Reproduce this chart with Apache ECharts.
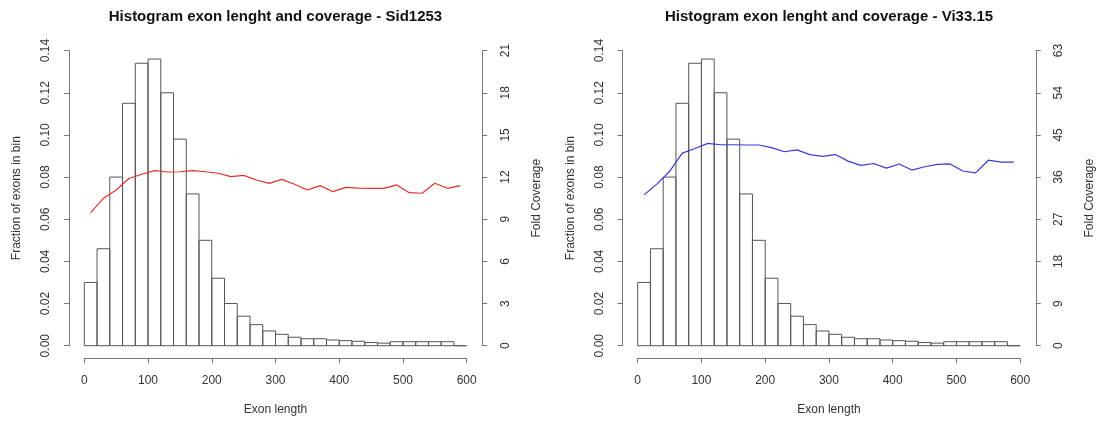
<!DOCTYPE html>
<html>
<head>
<meta charset="utf-8">
<script src="https://cdn.jsdelivr.net/npm/echarts@6/dist/echarts.min.js"></script>
<style>
html,body{margin:0;padding:0;background:#fff;}
#chart{width:1099px;height:423px;}
</style>
</head>
<body>
<div id="chart"></div>
<script>
// ---- data ----
const binStart = [0,20,40,60,80,100,120,140,160,180,200,220,240,260,280,300,320,340,360,380,400,420,440,460,480,500,520,540,560,580];
const binEnd   = [20,40,60,80,100,120,140,160,180,200,220,240,260,280,300,320,340,360,380,400,420,440,460,480,500,520,540,560,580,600];
const binMid   = [10,30,50,70,90,110,130,150,170,190,210,230,250,270,290,310,330,350,370,390,410,430,450,470,490,510,530,550,570,590];
const fraction = [0.030,0.046,0.080,0.115,0.134,0.136,0.120,0.098,0.072,0.050,0.032,0.020,0.014,0.010,0.007,0.0054,0.0040,0.0033,0.0033,0.0027,0.0024,0.0021,0.0015,0.0012,0.0019,0.0019,0.0019,0.0019,0.0019,0];
const coverageSid = [9.47,10.49,11.08,11.9,12.2,12.46,12.36,12.38,12.46,12.38,12.27,12.03,12.12,11.79,11.55,11.84,11.49,11.08,11.39,10.96,11.27,11.22,11.2,11.2,11.44,10.89,10.85,11.56,11.2,11.39];
const coverageVi  = [32.2,34.5,37.2,41.1,42.1,43.2,42.9,42.9,42.85,42.85,42.3,41.4,41.8,40.8,40.4,40.8,39.4,38.5,38.9,37.9,38.8,37.5,38.2,38.7,38.8,37.3,36.9,39.6,39.2,39.2];
const titles = ['Histogram exon lenght and coverage - Sid1253', 'Histogram exon lenght and coverage - Vi33.15'];
const xTitle = 'Exon length';
const yLeftTitle = 'Fraction of exons in bin';
const yRightTitle = 'Fold Coverage';
const rightMax = [21, 63];
const rightInterval = [3, 9];

// ---- chart ----
const FONT = 'Liberation Sans, Arial, Helvetica, sans-serif';
const AXIS_COLOR = '#777';
const TEXT_COLOR = '#333';

const histData = binStart.map((s, i) => [s, binEnd[i], fraction[i]]);
const lineSid = binMid.map((m, i) => [m, coverageSid[i]]);
const lineVi = binMid.map((m, i) => [m, coverageVi[i]]);

const grids = [
  {left: 84.3, top: 50.6, width: 382.4, height: 295.1},
  {left: 637.7, top: 50.6, width: 382.5, height: 295.1}
];

function xAxisFor(gi) {
  return {
    type: 'value', gridIndex: gi, min: 0, max: 600, interval: 100,
    offset: 12.6,
    axisLine: {show: true, onZero: false, lineStyle: {color: AXIS_COLOR, width: 1}},
    axisTick: {show: true, length: 5, lineStyle: {color: AXIS_COLOR}},
    splitLine: {show: false},
    axisLabel: {fontSize: 12, color: TEXT_COLOR, fontFamily: FONT, margin: 16},
    name: xTitle, nameLocation: 'middle', nameGap: 45,
    nameTextStyle: {fontSize: 12, color: TEXT_COLOR, fontFamily: FONT}
  };
}
function yLeftFor(gi) {
  return {
    type: 'value', gridIndex: gi, position: 'left', min: 0, max: 0.14, interval: 0.02,
    offset: 15.3,
    axisLine: {show: true, onZero: false, lineStyle: {color: AXIS_COLOR, width: 1}},
    axisTick: {show: true, length: 5, lineStyle: {color: AXIS_COLOR}},
    splitLine: {show: false},
    axisLabel: {fontSize: 12, color: TEXT_COLOR, fontFamily: FONT, rotate: 90, margin: 17,
      formatter: v => v.toFixed(2)},
    name: yLeftTitle, nameLocation: 'middle', nameGap: 46, nameRotate: 90,
    nameTextStyle: {fontSize: 12, color: TEXT_COLOR, fontFamily: FONT}
  };
}
function yRightFor(gi) {
  return {
    type: 'value', gridIndex: gi, position: 'right', min: 0, max: rightMax[gi], interval: rightInterval[gi],
    offset: 15.6,
    axisLine: {show: true, onZero: false, lineStyle: {color: AXIS_COLOR, width: 1}},
    axisTick: {show: true, length: 5, lineStyle: {color: AXIS_COLOR}},
    splitLine: {show: false},
    axisLabel: {fontSize: 12, color: TEXT_COLOR, fontFamily: FONT, rotate: 90, margin: 17},
    name: yRightTitle, nameLocation: 'middle', nameGap: 48, nameRotate: 90,
    nameTextStyle: {fontSize: 12, color: TEXT_COLOR, fontFamily: FONT}
  };
}

function histSeries(gi) {
  return {
    type: 'custom', xAxisIndex: gi, yAxisIndex: gi * 2,
    data: histData,
    encode: {x: [0, 1], y: 2},
    renderItem: function (params, api) {
      const p0 = api.coord([api.value(0), api.value(2)]);
      const p1 = api.coord([api.value(1), 0]);
      return {
        type: 'rect',
        shape: {x: p0[0], y: p0[1], width: p1[0] - p0[0], height: p1[1] - p0[1]},
        style: {fill: 'none', stroke: '#555', lineWidth: 1}
      };
    },
    silent: true
  };
}

const option = {
  animation: false,
  backgroundColor: '#fff',
  grid: grids,
  xAxis: [xAxisFor(0), xAxisFor(1)],
  yAxis: [yLeftFor(0), yRightFor(0), yLeftFor(1), yRightFor(1)],
  graphic: [
    {type: 'text', x: 275.5, y: 17, style: {text: titles[0], align: 'center', verticalAlign: 'middle',
      fontSize: 15, fontWeight: 'bold', fontFamily: FONT, fill: '#111'}},
    {type: 'text', x: 829, y: 17, style: {text: titles[1], align: 'center', verticalAlign: 'middle',
      fontSize: 15, fontWeight: 'bold', fontFamily: FONT, fill: '#111'}}
  ],
  series: [
    histSeries(0),
    {type: 'line', xAxisIndex: 0, yAxisIndex: 1, data: lineSid, showSymbol: false, silent: true,
      lineStyle: {color: '#e2312b', width: 1.2}},
    histSeries(1),
    {type: 'line', xAxisIndex: 1, yAxisIndex: 3, data: lineVi, showSymbol: false, silent: true,
      lineStyle: {color: '#3a3ad2', width: 1.2}}
  ]
};

const chart = echarts.init(document.getElementById('chart'), null, {renderer: 'canvas'});
chart.setOption(option);
</script>
</body>
</html>
